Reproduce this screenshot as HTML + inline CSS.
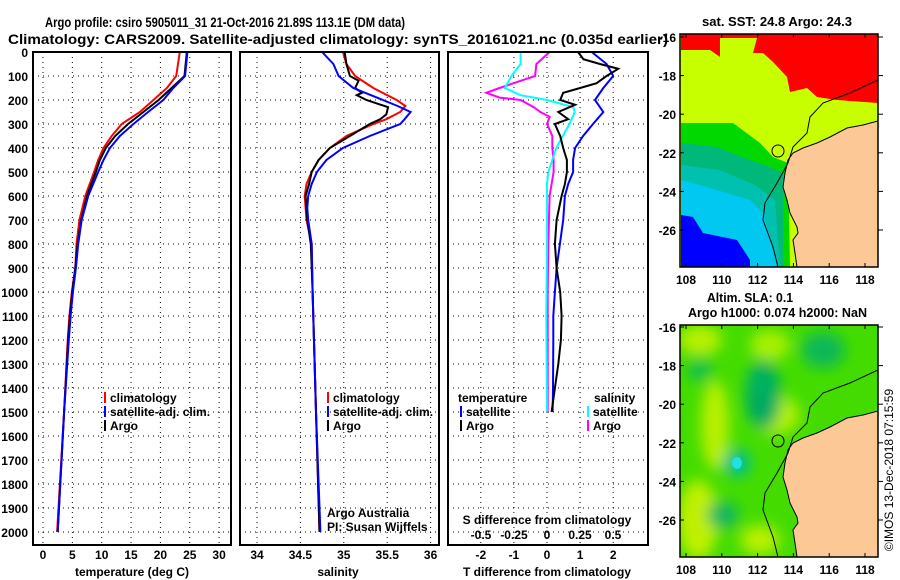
<!DOCTYPE html>
<html><head><meta charset="utf-8"><style>
html,body{margin:0;padding:0;background:#fff;}
svg{display:block;font-family:"Liberation Sans",sans-serif;}
.t{font-weight:bold;font-size:14px;fill:#000;}
.mt{font-weight:bold;font-size:13px;fill:#000;}
.lg{font-weight:bold;font-size:12px;fill:#000;}
.grid{stroke:#000;stroke-width:1;stroke-dasharray:1,4;}
.box{fill:none;stroke:#000;stroke-width:2;}
</style></head><body>
<svg id="root" width="900" height="580" viewBox="0 0 900 580">
<text class="t" x="45" y="27" textLength="360" lengthAdjust="spacingAndGlyphs">Argo profile: csiro 5905011_31 21-Oct-2016 21.89S 113.1E (DM data)</text>
<text class="t" x="8" y="44" textLength="660" lengthAdjust="spacingAndGlyphs">Climatology: CARS2009. Satellite-adjusted climatology: synTS_20161021.nc (0.035d earlier)</text>
<g id="plots"></g>

<g>
<text class="mt" x="702" y="26" textLength="150" lengthAdjust="spacingAndGlyphs">sat. SST: 24.8 Argo: 24.3</text>
<clipPath id="c1"><rect x="680" y="34" width="198" height="233"/></clipPath>
<g clip-path="url(#c1)">
<rect x="680" y="34" width="198" height="233" fill="#c8ff00"/>
<polygon fill="#ff0000" points="681,34 878,34 878,103 837,100 817,97 807,88 790,92 787,77 773,62 763,53 753,53 757,38 720,38 720,57 710,50 681,50"/>
<polygon fill="#00d800" points="681,123 733,123 760,143 773,157 788,163 790,267 681,267"/>
<polygon fill="#00b87a" points="681,143 717,147 750,160 770,167 783,173 783,267 681,267"/>
<polygon fill="#00c0b0" points="681,165 720,170 755,185 775,200 780,267 681,267"/>
<polygon fill="#00c8f0" points="681,180 717,190 750,200 763,213 777,267 681,267"/>
<polygon fill="#0000ff" points="681,215 693,217 703,233 737,240 750,260 750,267 681,267"/>
<polygon fill="#fcc996" points="878,121 863,125 847,128 830,137 817,143 803,148 793,153 788,160 785,173 783,187 787,200 790,213 797,227 798,233 793,240 795,253 797,267 878,267"/>
<polyline fill="none" stroke="#000" stroke-width="1" points="878,121 863,125 847,128 830,137 817,143 803,148 793,153 788,160 785,173 783,187 787,200 790,213 797,227 798,233 793,240 795,253 797,267"/>
<polyline fill="none" stroke="#000" stroke-width="1" points="878,80 850,93 823,103 810,117 807,133 793,147 788,163 777,183 765,203 763,220 773,247 778,267"/>
<circle cx="778" cy="151" r="6" fill="none" stroke="#000" stroke-width="1"/>
</g>
<rect x="680" y="34" width="198" height="233" fill="none" stroke="#000" stroke-width="1.5"/>
<g id="map1ticks"></g>
</g>

<g>
<text class="mt" x="707" y="302" textLength="86" lengthAdjust="spacingAndGlyphs">Altim. SLA: 0.1</text>
<text class="mt" x="688" y="317" textLength="179" lengthAdjust="spacingAndGlyphs">Argo h1000: 0.074 h2000: NaN</text>
<clipPath id="c2"><rect x="680" y="325" width="198" height="232"/></clipPath>
<filter id="bl" x="-50%" y="-50%" width="200%" height="200%"><feGaussianBlur stdDeviation="7"/></filter>
<g clip-path="url(#c2)">
<rect x="680" y="325" width="198" height="232" fill="#44dc00"/>
<g filter="url(#bl)">
<ellipse cx="700" cy="340" rx="22" ry="15" fill="#b8f000"/>
<ellipse cx="715" cy="425" rx="14" ry="45" fill="#b8f000"/>
<ellipse cx="698" cy="520" rx="20" ry="40" fill="#c0f000"/>
<ellipse cx="775" cy="415" rx="25" ry="20" fill="#b0f000"/>
<ellipse cx="770" cy="345" rx="20" ry="15" fill="#a8f000"/>
<ellipse cx="760" cy="540" rx="20" ry="15" fill="#b8f000"/>
<ellipse cx="763" cy="395" rx="18" ry="35" fill="#00b060"/>
<ellipse cx="823" cy="350" rx="22" ry="18" fill="#10b858"/>
<ellipse cx="700" cy="370" rx="12" ry="12" fill="#10c050"/>
<ellipse cx="737" cy="463" rx="14" ry="14" fill="#00c090"/>
<ellipse cx="723" cy="515" rx="16" ry="14" fill="#10b860"/>
<ellipse cx="760" cy="407" rx="12" ry="10" fill="#00a860"/>
</g>
<ellipse cx="737" cy="463" rx="5" ry="6" fill="#20e0e0"/>
<polygon fill="#fcc996" points="878,411 863,415 847,418 830,427 817,433 803,438 793,443 788,450 785,463 783,477 787,490 790,503 797,517 798,523 793,530 795,543 797,557 878,557"/>
<polyline fill="none" stroke="#000" stroke-width="1" points="878,411 863,415 847,418 830,427 817,433 803,438 793,443 788,450 785,463 783,477 787,490 790,503 797,517 798,523 793,530 795,543 797,557"/>
<polyline fill="none" stroke="#000" stroke-width="1" points="878,370 850,383 823,393 810,407 807,423 793,437 788,453 777,473 765,493 763,510 773,537 778,557"/>
<circle cx="778" cy="441" r="6" fill="none" stroke="#000" stroke-width="1"/>
</g>
<rect x="680" y="325" width="198" height="232" fill="none" stroke="#000" stroke-width="1.5"/>
<g id="map2ticks"></g>
</g>
<text x="893" y="470" font-size="12" fill="#000" transform="rotate(-90 893 470)" text-anchor="middle">©IMOS 13-Dec-2018 07:15:59</text>
</svg>
<script>
const tempDepth = [0,100,150,200,250,300,350,400,450,500,600,700,800,900,1000,1100,1200,1500,2000];
const tempClim  = [23.3,22.7,21.1,18.8,16.5,13.4,11.7,10.3,9.4,8.7,7.2,6.2,5.7,5.5,4.9,4.5,4.2,3.6,2.4];
const tempSat   = [24.6,24.2,22.2,20.5,17.9,15.4,13.1,11.4,10.3,9.4,7.7,6.6,6.0,5.6,5.1,4.7,4.4,3.6,2.5];
const tempArgo  = [24.5,24.1,21.9,19.7,17.1,14.5,12.3,10.7,9.7,9.0,7.5,6.5,5.9,5.5,5.0,4.6,4.3,3.6,2.5];
const salDepth  = [0,50,100,150,200,225,250,280,300,350,400,450,500,550,600,650,700,800,1000,1500,2000];
const salClim   = [34.99,35.03,35.13,35.34,35.61,35.71,35.65,35.49,35.34,35.03,34.84,34.71,34.63,34.57,34.55,34.56,34.57,34.63,34.64,34.68,34.72];
const salSat    = [34.75,34.88,34.94,35.11,35.45,35.62,35.77,35.70,35.65,35.30,34.99,34.80,34.69,34.63,34.59,34.58,34.59,34.63,34.64,34.68,34.73];
const argoSalDepth = [0,50,100,120,150,170,180,200,230,260,280,300,350,400,450,500,550,600,650,700,800,1000,1500,2000];
const salArgo   = [35.01,35.03,35.07,35.17,35.13,35.21,35.15,35.26,35.51,35.49,35.42,35.30,35.07,34.84,34.71,34.63,34.60,34.56,34.57,34.58,34.62,34.64,34.68,34.72];
const tdSatDepth = [0,50,100,150,200,250,300,350,400,450,500,550,600,700,800,900,1000,1100,1200,1400,1500];
const tdSat      = [1.35,1.8,2.0,1.7,1.45,1.7,1.39,1.09,0.85,0.79,0.79,0.64,0.54,0.49,0.39,0.29,0.24,0.19,0.19,0.18,0.17];
const tdArgoDepth = [0,30,50,70,100,130,150,170,200,220,250,280,300,350,400,450,500,550,600,700,800,900,1000,1100,1200,1300,1400,1500];
const tdArgo      = [0.94,1.1,1.6,2.15,1.8,1.5,1.0,0.49,0.4,0.85,0.34,0.64,0.24,0.4,0.49,0.6,0.6,0.54,0.44,0.29,0.24,0.29,0.4,0.44,0.42,0.34,0.24,0.14];
const sdSatDepth = [0,50,100,150,180,200,230,250,300,350,400,450,500,550,800,1100,1500];
const sdSat      = [-0.2,-0.2,-0.27,-0.32,-0.2,0,0.2,0.21,0.17,0.12,0.07,0.04,0.01,0,0,-0.005,0];
const sdArgoDepth = [0,50,100,120,150,170,190,200,230,250,270,300,350,400,450,500,600,800,1000,1500];
const sdArgo      = [0.02,-0.08,-0.09,-0.2,-0.36,-0.46,-0.36,-0.2,-0.1,-0.05,0.02,0,0.04,0.04,0.05,0.05,0.02,0.01,0.005,0.005];
const depthTicks = [0,100,200,300,400,500,600,700,800,900,1000,1100,1200,1300,1400,1500,1600,1700,1800,1900,2000];
const tempTicks = [0,5,10,15,20,25,30];
const salTicks = [34,34.5,35,35.5,36];
const salTickLabels = ["34","34.5","35","35.5","36"];
const tdTicks = [-2,-1,0,1,2];
const sdTicks = [-0.5,-0.25,0,0.25,0.5];
const sdTickLabels = ["-0.5","-0.25","0","0.25","0.5"];
const lonTicks = [108,110,112,114,116,118];
const latTicks = [-16,-18,-20,-22,-24,-26];

const NS="http://www.w3.org/2000/svg";
const Y = d => 52 + d*0.24;
const XT = t => 43 + t*5.87;
const XS = s => 257 + (s-34)*86.8;
const XTD = t => 547 + t*33.1;
const XSD = s => 547 + s*132;
const LON = l => 686 + (l-108)*17.9;
const LAT1 = a => 37 + (-16-a)*19.3;
const LAT2 = a => 327 + (-16-a)*19.3;
const plots = document.getElementById('plots');
function mk(tag, attrs, parent){const e=document.createElementNS(NS,tag);for(const k in attrs)e.setAttribute(k,attrs[k]);(parent||plots).appendChild(e);return e;}
function txt(x,y,s,cls,anchor,parent){const e=mk('text',{x:x,y:y,'class':cls||'lg','text-anchor':anchor||'middle'},parent);e.textContent=s;return e;}

const panels=[{x0:33,x1:231},{x0:240,x1:439},{x0:448,x1:648}];
panels.forEach((p,i)=>{
  const g=mk('g',{});
  
  
  depthTicks.forEach(d=>{mk('line',{x1:p.x0,x2:p.x1,y1:Y(d),y2:Y(d),'class':'grid'},g);});
  p.g=g;
});
depthTicks.forEach(d=>{const t=txt(28,Y(d)+5,String(d),'lg','end');

});
tempTicks.forEach(v=>{mk('line',{x1:XT(v),x2:XT(v),y1:52,y2:545,'class':'grid'},panels[0].g);
const t=txt(XT(v),559,String(v));

});
salTicks.forEach((v,i)=>{mk('line',{x1:XS(v),x2:XS(v),y1:52,y2:545,'class':'grid'},panels[1].g);
const t=txt(XS(v),559,salTickLabels[i]);

});
tdTicks.forEach(v=>{mk('line',{x1:XTD(v),x2:XTD(v),y1:52,y2:545,'class':'grid'},panels[2].g);
const t=txt(XTD(v),559,String(v));

});
sdTicks.forEach((v,i)=>{const t=txt(XSD(v),539,sdTickLabels[i]);

});

function series(depths, vals, X, color, name){
  const pts=depths.map((d,i)=>X(vals[i]).toFixed(1)+','+Y(d).toFixed(1)).join(' ');
  const e=mk('polyline',{points:pts,fill:'none',stroke:color,'stroke-width':2});
  
  
}
series(tempDepth,tempClim,XT,'#ff0000','temperature-climatology-line');
series(tempDepth,tempArgo,XT,'#000000','temperature-argo-line');
series(tempDepth,tempSat,XT,'#0000ff','temperature-satellite-line');
series(salDepth,salClim,XS,'#ff0000','salinity-climatology-line');
series(argoSalDepth,salArgo,XS,'#000000','salinity-argo-line');
series(salDepth,salSat,XS,'#0000ff','salinity-satellite-line');
series(sdArgoDepth,sdArgo,XSD,'#ff00ff','s-diff-argo-line');
series(sdSatDepth,sdSat,XSD,'#00ffff','s-diff-satellite-line');
series(tdSatDepth,tdSat,XTD,'#0000ff','t-diff-satellite-line');
series(tdArgoDepth,tdArgo,XTD,'#000000','t-diff-argo-line');

panels.forEach(p=>{mk('rect',{x:p.x0,y:52,width:p.x1-p.x0,height:493,'class':'box'});});

function legend(x,y,color,label){
  mk('line',{x1:x,x2:x,y1:y-10,y2:y+1,stroke:color,'stroke-width':2});
  const t=txt(x+5,y,label,'lg','start');
  
  
}
legend(105,402,'#ff0000','climatology');legend(105,416,'#0000ff','satellite-adj. clim.');legend(105,430,'#000','Argo');
legend(328,402,'#ff0000','climatology');legend(328,416,'#0000ff','satellite-adj. clim.');legend(328,430,'#000','Argo');
txt(458,402,'temperature','lg','start');
legend(461,416,'#0000ff','satellite');legend(461,430,'#000','Argo');
txt(594,402,'salinity','lg','start');
legend(588,416,'#00ffff','satellite');legend(588,430,'#ff00ff','Argo');
let a=txt(132,576,'temperature (deg C)');


a=txt(338,576,'salinity');


a=txt(547,576,'T difference from climatology');


a=txt(547,524,'S difference from climatology');


a=txt(327,517,'Argo Australia','','start');a.setAttribute('font-size','12');


a=txt(327,531,'PI: Susan Wijffels','','start');a.setAttribute('font-size','12');



function mapTicks(gid,LAT,yTop,yBot){
  const g=document.getElementById(gid);
  lonTicks.forEach(l=>{mk('line',{x1:LON(l),x2:LON(l),y1:yTop,y2:yTop+4,stroke:'#000'},g);mk('line',{x1:LON(l),x2:LON(l),y1:yBot-4,y2:yBot,stroke:'#000'},g);
    const t=txt(LON(l),yBot+17,String(l),'lg','middle',g);
    
    });
  latTicks.forEach(a=>{mk('line',{x1:680,x2:684,y1:LAT(a),y2:LAT(a),stroke:'#000'},g);mk('line',{x1:878,x2:883,y1:LAT(a),y2:LAT(a),stroke:'#000'},g);
    const t=txt(676,LAT(a)+5,String(a),'lg','end',g);
    
    });
}
mapTicks('map1ticks',LAT1,34,267);
mapTicks('map2ticks',LAT2,325,557);
</script>
</body></html>
